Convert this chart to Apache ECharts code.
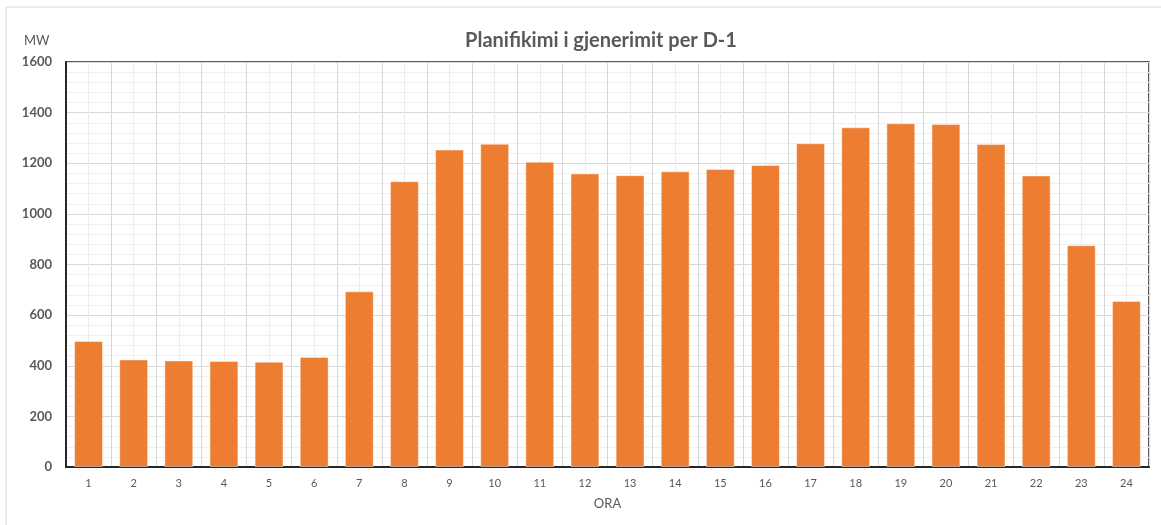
<!DOCTYPE html>
<html>
<head>
<meta charset="utf-8">
<script src="https://cdn.jsdelivr.net/npm/echarts@6/dist/echarts.min.js"></script>
<style>
  html, body { margin: 0; padding: 0; background: #fff; }
  #chart { width: 1161px; height: 525px; }
</style>
</head>
<body>
<div id="chart"></div>
<script>
const hours = ['1','2','3','4','5','6','7','8','9','10','11','12','13','14','15','16','17','18','19','20','21','22','23','24'];
const generation = [498, 425, 421, 419, 416, 435, 694, 1129, 1254, 1277, 1206, 1160, 1153, 1168, 1177, 1193, 1279, 1342, 1358, 1355, 1276, 1152, 876, 656];

const textGray = '#595959';
const barColor = '#ED7D31';
const font = 'Lato, "Open Sans", sans-serif';

const chart = echarts.init(document.getElementById('chart'));

chart.setOption({
  animation: false,
  backgroundColor: '#fff',
  textStyle: { fontFamily: font },
  title: {
    text: 'Planifikimi i gjenerimit per D-1',
    left: 596,
    top: 26,
    textAlign: 'center',
    textStyle: { color: textGray, fontSize: 20, fontWeight: 'bold', fontFamily: font }
  },
  graphic: [
    {
      type: 'rect',
      shape: { x: 6, y: 7, width: 1170, height: 540 },
      style: { fill: null, stroke: '#d9d9d9', lineWidth: 1 },
      z: -1
    },
    {
      type: 'text',
      left: 24,
      top: 34,
      style: { text: 'MW', fill: textGray, fontSize: 13, fontFamily: font }
    }
  ],
  grid: {
    left: 66,
    right: 12,
    top: 62,
    bottom: 58,
    show: true,
    borderColor: '#262626',
    borderWidth: 1.5,
    backgroundColor: 'transparent'
  },
  xAxis: [
    {
      type: 'category',
      data: hours,
      name: 'ORA',
      nameLocation: 'middle',
      nameGap: 30,
      nameTextStyle: { color: textGray, fontSize: 13 },
      axisLine: { show: true, lineStyle: { color: '#262626', width: 2 } },
      axisTick: { show: false },
      axisLabel: { color: textGray, fontSize: 11, margin: 11 },
      splitLine: { show: true, lineStyle: { color: '#d9d9d9', width: 1 } }
    },
    {
      type: 'value',
      min: 0,
      max: 24,
      interval: 1,
      show: true,
      position: 'bottom',
      axisLine: { show: false },
      axisTick: { show: false },
      axisLabel: { show: false },
      splitLine: { show: false },
      minorTick: { show: false, splitNumber: 2 },
      minorSplitLine: { show: true, lineStyle: { color: '#ececec', width: 1 } }
    }
  ],
  yAxis: {
    type: 'value',
    min: 0,
    max: 1600,
    interval: 200,
    axisLine: { show: true, lineStyle: { color: '#262626', width: 2 } },
    axisTick: { show: false },
    axisLabel: { color: textGray, fontSize: 13, fontWeight: 'bold', margin: 14, formatter: (v) => String(v) },
    splitLine: { show: true, lineStyle: { color: '#d9d9d9', width: 1 } },
    minorTick: { show: false, splitNumber: 5 },
    minorSplitLine: { show: true, lineStyle: { color: '#f0f0f0', width: 1 } }
  },
  series: [
    {
      name: 'Gjenerimi',
      type: 'bar',
      xAxisIndex: 0,
      data: generation,
      barCategoryGap: '36%',
      itemStyle: {
        color: barColor,
        borderColor: 'rgba(255,255,255,0.45)',
        borderWidth: 1
      }
    }
  ]
});
</script>
</body>
</html>
